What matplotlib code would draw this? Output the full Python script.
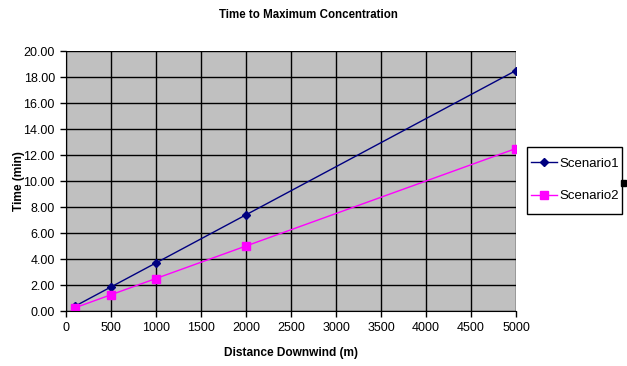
import matplotlib.pyplot as plt
import numpy as np

distance = [100, 500, 1000, 2000, 5000]
scenario1 = [0.37, 1.85, 3.7, 7.4, 18.5]
scenario2 = [0.25, 1.25, 2.5, 5.0, 12.5]
xticks = np.arange(0, 5001, 500)
yticks = np.arange(0, 20.01, 2)

plt.rcParams['font.family'] = ['Liberation Sans', 'DejaVu Sans']

fig = plt.figure(figsize=(6.27, 3.66), dpi=100)
ax = fig.add_axes([66 / 627, 55 / 366, 450 / 627, 260 / 366])
ax.set_facecolor('#c0c0c0')

ax.plot(distance, scenario1, color='#000080', marker='D', markersize=4,
        linewidth=1, label='Scenario1')
ax.plot(distance, scenario2, color='#ff00ff', marker='s', markersize=5.5,
        linewidth=1, label='Scenario2')

ax.set_xlim(0, 5000)
ax.set_ylim(0, 20)
ax.set_xticks(xticks)
ax.set_yticks(yticks)
ax.set_yticklabels(['%.2f' % v for v in yticks])
ax.grid(color='black', linewidth=1)
ax.set_axisbelow(True)
ax.tick_params(labelsize=9, length=4, width=1, color='black', pad=4)

for s in ['top', 'right']:
    ax.spines[s].set_visible(False)
for s in ['left', 'bottom']:
    ax.spines[s].set_color('black')

fig.text(308 / 627, 1 - 15 / 366, 'Time to Maximum Concentration', fontsize=8.3,
         fontweight='bold', ha='center', va='center')
ax.set_xlabel('Distance Downwind (m)', fontsize=8.6, fontweight='bold', labelpad=9)
ax.set_ylabel('Time (min)', fontsize=8.6, fontweight='bold', labelpad=-1)

# legend box drawn by hand, legend entries placed inside it
fig.patches.append(plt.Rectangle((527 / 627, 1 - 214 / 366), 95 / 627, 67 / 366,
                                 transform=fig.transFigure, facecolor='white',
                                 edgecolor='black', linewidth=1))
fig.legend(loc='center left', bbox_to_anchor=(531 / 627, 1 - 180 / 366),
           fontsize=9.5, frameon=False, borderpad=0, labelspacing=1.5,
           handlelength=2.0, handletextpad=0.15, borderaxespad=0)

fig.patches.append(plt.Rectangle((621 / 627, 1 - 186 / 366), 5 / 627, 6 / 366,
                                 transform=fig.transFigure, color='black', zorder=10))

plt.savefig('out.png', dpi=100)
